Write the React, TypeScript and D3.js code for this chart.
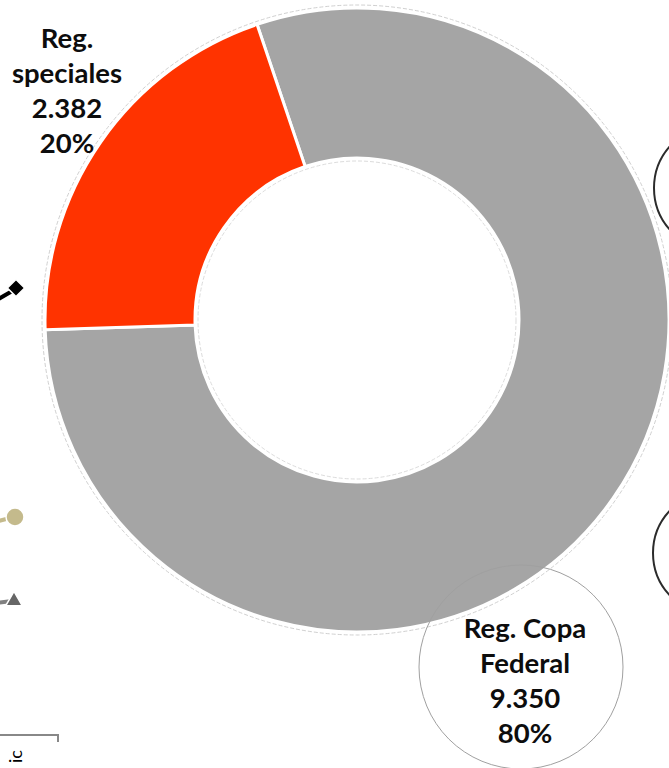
import { useEffect, useRef } from 'react'
import * as d3 from 'd3'

const categories = ['Reg. Copa Federal', 'Reg. speciales']
const values = [9350, 2382]
const valueLabels = ['9.350', '2.382']
const percentLabels = ['80%', '20%']
const colors = ['#a5a5a5', '#ff3300']

const width = 669
const height = 768

export default function App() {
  const svgRef = useRef<SVGSVGElement>(null)

  useEffect(() => {
    if (!svgRef.current) return
    const svg = d3.select(svgRef.current)
    svg.selectAll('*').remove()

    const cx = 357
    const cy = 320
    const outerR = 312
    const innerR = 162

    const font = 'Lato, "Open Sans", sans-serif'

    // stray bits of neighbouring charts cut off by the crop
    const left = svg.append('g')
    left.append('line').attr('x1', -5).attr('y1', 301).attr('x2', 14).attr('y2', 290)
      .attr('stroke', '#000').attr('stroke-width', 4)
    left.append('path').attr('d', d3.symbol(d3.symbolSquare, 150)())
      .attr('transform', 'translate(16,288) rotate(45)')
      .attr('fill', '#000').attr('stroke', '#fff').attr('stroke-width', 1.5)
    left.append('line').attr('x1', -5).attr('y1', 522).attr('x2', 14).attr('y2', 517)
      .attr('stroke', '#c4ba8c').attr('stroke-width', 4)
    left.append('circle').attr('cx', 15).attr('cy', 517).attr('r', 9)
      .attr('fill', '#c4ba8c').attr('stroke', '#fff').attr('stroke-width', 1.5)
    left.append('line').attr('x1', -5).attr('y1', 603).attr('x2', 12).attr('y2', 601)
      .attr('stroke', '#808080').attr('stroke-width', 4)
    left.append('path').attr('d', d3.symbol(d3.symbolTriangle, 120)())
      .attr('transform', 'translate(14,601)')
      .attr('fill', '#666').attr('stroke', '#fff').attr('stroke-width', 1.5)
    left.append('path').attr('d', 'M0,735H58V742')
      .attr('fill', 'none').attr('stroke', '#888').attr('stroke-width', 2)
    left.append('text').attr('transform', 'translate(22,763) rotate(-90)')
      .attr('font-family', font).attr('font-size', 18).attr('fill', '#000').text('ic')

    const right = svg.append('g')
    right.append('circle').attr('cx', 717).attr('cy', 188).attr('r', 63)
      .attr('fill', 'none').attr('stroke', '#2b2b2b').attr('stroke-width', 2)
    right.append('circle').attr('cx', 715).attr('cy', 553).attr('r', 62)
      .attr('fill', 'none').attr('stroke', '#2b2b2b').attr('stroke-width', 2)

    const g = svg.append('g').attr('transform', `translate(${cx},${cy})`)

    g.append('circle').attr('r', outerR + 3)
      .attr('fill', 'none').attr('stroke', '#d0d0d0').attr('stroke-width', 1)
      .attr('stroke-dasharray', '4,2')

    const pie = d3.pie<number>().sort(null)
      .startAngle(-0.326).endAngle(2 * Math.PI - 0.326)
    const arc = d3.arc<d3.PieArcDatum<number>>().innerRadius(innerR).outerRadius(outerR)

    g.selectAll('path.slice')
      .data(pie(values))
      .enter().append('path')
      .attr('class', 'slice')
      .attr('d', arc)
      .attr('fill', (_, i) => colors[i])
      .attr('stroke', '#fff')
      .attr('stroke-width', 3)

    g.append('circle').attr('r', innerR - 3)
      .attr('fill', 'none').attr('stroke', '#dcdcdc').attr('stroke-width', 1)
      .attr('stroke-dasharray', '4,2')

    // label bubble for the big slice
    svg.append('circle').attr('cx', 521).attr('cy', 667).attr('r', 102)
      .attr('fill', 'none').attr('stroke', '#a0a0a0').attr('stroke-width', 1)

    const labelPos = [
      { x: 525, y: 638 },
      { x: 67, y: 48 }
    ]
    const lines = [
      ['Reg. Copa', 'Federal', valueLabels[0], percentLabels[0]],
      ['Reg.', 'speciales', valueLabels[1], percentLabels[1]]
    ]

    categories.forEach((_, i) => {
      const t = svg.append('text')
        .attr('text-anchor', 'middle')
        .attr('font-family', font)
        .attr('font-weight', 'bold')
        .attr('font-size', 27.5)
        .attr('fill', '#0d0d0d')
      lines[i].forEach((s, j) => {
        t.append('tspan').attr('x', labelPos[i].x).attr('y', labelPos[i].y + j * 35).text(s)
      })
    })
  }, [])

  return (
    <svg ref={svgRef} width={width} height={height}
      style={{ position: 'absolute', left: 0, top: 0, background: '#fff' }} />
  )
}
